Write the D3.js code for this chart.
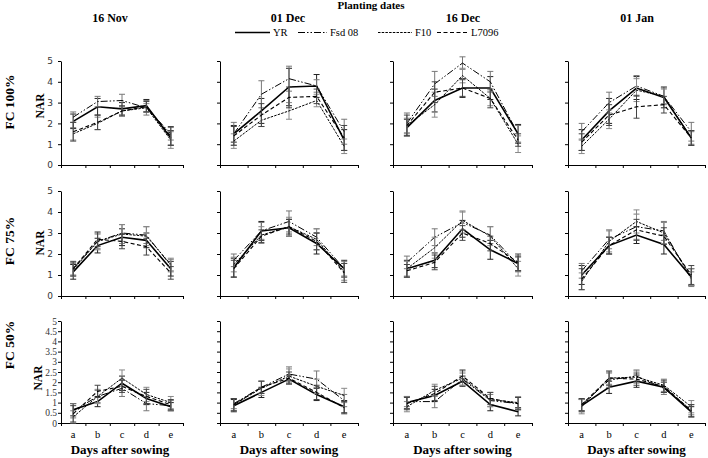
<!DOCTYPE html>
<html>
<head>
<meta charset="utf-8">
<script src="https://cdn.jsdelivr.net/npm/d3@7"></script>
<style>
  body { margin: 0; background: #fff; }
  svg { display: block; }
</style>
</head>
<body>
<div id="chart"></div>
<script>
// planting dates (columns), field capacity (rows), sampling stages
var dates = ["16 Nov", "01 Dec", "16 Dec", "01 Jan"];
var fcLevels = ["FC 100%", "FC 75%", "FC 50%"];
var stages = ["a", "b", "c", "d", "e"];
var varieties = ["YR", "Fsd 08", "F10", "L7096"];

var yTicksWide = [0, 1, 2, 3, 4, 5];
var yTicksFine = [0, 0.5, 1, 1.5, 2, 2.5, 3, 3.5, 4, 4.5, 5];

// NAR means, [row][col] -> a..e
var yrNar = [
  [[2.1, 2.8, 2.7, 2.85, 1.3], [1.5, 2.6, 3.75, 3.8, 1.2], [1.8, 3.1, 3.7, 3.7, 1.5], [1.2, 2.6, 3.7, 3.25, 1.3]],
  [[1.15, 2.4, 2.8, 2.65, 1.3], [1.35, 3.1, 3.25, 2.5, 1.3], [1.3, 1.7, 3.2, 2.2, 1.55], [1.0, 2.4, 2.9, 2.45, 0.9]],
  [[0.65, 1.05, 1.95, 1.2, 0.8], [0.85, 1.5, 2.15, 1.4, 0.8], [1.0, 1.35, 2.05, 0.9, 0.55], [0.85, 1.75, 2.05, 1.75, 0.55]]
];
var fsdNar = [
  [[2.3, 3.05, 3.1, 2.75, 1.5], [1.5, 3.4, 4.15, 3.8, 1.6], [2.0, 3.9, 4.9, 4.0, 1.5], [1.6, 3.0, 3.8, 3.3, 1.6]],
  [[1.3, 2.6, 3.0, 2.9, 1.45], [1.7, 3.1, 3.55, 2.8, 1.3], [1.6, 2.8, 3.5, 2.9, 1.5], [1.2, 2.7, 3.3, 3.1, 0.8]],
  [[0.6, 1.3, 1.7, 0.95, 0.85], [0.95, 1.75, 2.4, 2.15, 1.1], [1.05, 1.05, 2.15, 1.1, 0.95], [0.9, 2.1, 2.3, 1.7, 0.65]]
];
var f10Nar = [
  [[1.5, 2.0, 2.6, 2.75, 1.2], [1.15, 2.15, 2.6, 3.1, 0.9], [1.9, 2.9, 4.3, 3.2, 1.0], [0.9, 2.2, 3.6, 3.3, 1.3]],
  [[1.25, 2.6, 2.95, 2.85, 1.5], [1.5, 2.9, 3.3, 2.7, 1.15], [1.3, 2.3, 3.6, 2.85, 1.3], [0.7, 2.6, 3.55, 3.0, 0.9]],
  [[0.3, 1.3, 2.2, 1.4, 1.0], [0.9, 1.7, 2.3, 1.8, 1.35], [0.8, 1.6, 2.2, 1.15, 1.0], [0.8, 2.2, 2.25, 1.85, 0.8]]
];
var l7096Nar = [
  [[1.6, 2.05, 2.6, 2.8, 1.4], [1.4, 2.4, 3.25, 3.3, 1.3], [1.9, 3.5, 3.7, 3.2, 1.2], [1.1, 2.4, 2.8, 2.9, 1.3]],
  [[1.3, 2.7, 2.6, 2.35, 1.1], [1.3, 2.85, 3.3, 2.6, 1.1], [1.2, 1.6, 3.0, 2.5, 1.6], [0.8, 2.4, 3.15, 2.85, 1.0]],
  [[0.45, 1.55, 1.8, 1.3, 0.9], [0.9, 1.75, 2.2, 1.5, 0.75], [0.95, 1.45, 2.3, 1.2, 0.95], [0.9, 2.2, 2.15, 1.8, 0.6]]
];

// error bar half-lengths
var yrErr = [
  [[0.35, 0.4, 0.3, 0.3, 0.35], [0.4, 0.6, 0.9, 0.55, 0.5], [0.4, 0.55, 0.45, 0.55, 0.45], [0.5, 0.6, 0.55, 0.5, 0.35]],
  [[0.35, 0.35, 0.4, 0.35, 0.35], [0.45, 0.45, 0.4, 0.5, 0.4], [0.4, 0.35, 0.4, 0.45, 0.35], [0.45, 0.4, 0.4, 0.45, 0.4]],
  [[0.3, 0.25, 0.35, 0.3, 0.2], [0.3, 0.25, 0.2, 0.3, 0.3], [0.3, 0.3, 0.25, 0.3, 0.2], [0.3, 0.3, 0.3, 0.25, 0.25]]
];
var fsdErr = [
  [[0.25, 0.25, 0.3, 0.35, 0.3], [0.55, 0.65, 0.6, 0.3, 0.6], [0.5, 0.6, 0.3, 0.5, 0.4], [0.4, 0.5, 0.5, 0.4, 0.45]],
  [[0.3, 0.35, 0.4, 0.4, 0.3], [0.3, 0.4, 0.5, 0.4, 0.35], [0.3, 0.4, 0.5, 0.4, 0.35], [0.35, 0.45, 0.6, 0.45, 0.35]],
  [[0.35, 0.3, 0.4, 0.35, 0.25], [0.25, 0.3, 0.35, 0.4, 0.3], [0.25, 0.3, 0.3, 0.3, 0.3], [0.3, 0.35, 0.3, 0.3, 0.25]]
];
var f10Err = [
  [[0.3, 0.3, 0.2, 0.2, 0.4], [0.35, 0.3, 0.4, 0.3, 0.35], [0.35, 0.6, 0.35, 0.35, 0.4], [0.35, 0.45, 0.55, 0.35, 0.3]],
  [[0.3, 0.4, 0.45, 0.45, 0.3], [0.35, 0.4, 0.45, 0.5, 0.4], [0.35, 0.5, 0.45, 0.45, 0.35], [0.4, 0.5, 0.55, 0.5, 0.4]],
  [[0.3, 0.35, 0.4, 0.35, 0.3], [0.3, 0.35, 0.35, 0.35, 0.35], [0.25, 0.3, 0.35, 0.35, 0.3], [0.35, 0.3, 0.3, 0.3, 0.3]]
];
var l7096Err = [
  [[0.45, 0.35, 0.25, 0.25, 0.45], [0.45, 0.55, 0.5, 0.35, 0.6], [0.5, 0.5, 0.4, 0.45, 0.3], [0.4, 0.5, 0.55, 0.4, 0.35]],
  [[0.35, 0.35, 0.35, 0.4, 0.3], [0.4, 0.3, 0.35, 0.4, 0.45], [0.3, 0.35, 0.35, 0.35, 0.4], [0.5, 0.4, 0.5, 0.4, 0.45]],
  [[0.4, 0.3, 0.3, 0.35, 0.25], [0.3, 0.3, 0.3, 0.35, 0.3], [0.3, 0.35, 0.3, 0.3, 0.3], [0.3, 0.35, 0.3, 0.3, 0.3]]
];

var svgWidth = 708;
var svgHeight = 458;

// panel frames
var colLeft = [61, 220, 393, 568];
var colRight = [183, 358, 532, 705];
var rowTop = [61, 191, 321];
var rowBottom = [165, 296, 423];
// vertical centres of the row labels
var fcLabelY = [102, 241, 345];
var narLabelY = [106, 243, 378];

var serif = "'Liberation Serif', 'Times New Roman', serif";
var sans = "'DejaVu Sans', 'Liberation Sans', sans-serif";

var series = [
  { name: varieties[0], values: yrNar, err: yrErr, width: 1.6, dash: null, errColor: "#222" },
  { name: varieties[1], values: fsdNar, err: fsdErr, width: 1, dash: "7,2,1.5,2,1.5,2", errColor: "#777" },
  { name: varieties[2], values: f10Nar, err: f10Err, width: 1, dash: "2.5,1.2", errColor: "#888" },
  { name: varieties[3], values: l7096Nar, err: l7096Err, width: 1.1, dash: "4,2.5", errColor: "#444" }
];

var svg = d3.select("#chart")
  .append("svg")
  .attr("width", svgWidth)
  .attr("height", svgHeight);

// header
svg.append("text")
  .attr("x", 371)
  .attr("y", 9)
  .attr("text-anchor", "middle")
  .style("font-family", serif)
  .style("font-weight", "bold")
  .style("font-size", "11px")
  .text("Planting dates");

var dateCenters = [110, 288, 463, 637];
dates.forEach(function(d, i) {
  svg.append("text")
    .attr("x", dateCenters[i])
    .attr("y", 22)
    .attr("text-anchor", "middle")
    .style("font-family", serif)
    .style("font-weight", "bold")
    .style("font-size", "12px")
    .text(d);
});

// legend
var legendX = [235, 298, 378, 437];
var legendLen = [35, 29, 34, 31];
var legend = svg.append("g").attr("transform", "translate(0, 36)");
series.forEach(function(s, i) {
  legend.append("line")
    .attr("x1", legendX[i])
    .attr("x2", legendX[i] + legendLen[i])
    .attr("y1", -3.5)
    .attr("y2", -3.5)
    .attr("stroke", "#000")
    .attr("stroke-width", s.width)
    .attr("stroke-dasharray", s.dash);
  legend.append("text")
    .attr("x", legendX[i] + legendLen[i] + 3)
    .attr("y", 0)
    .style("font-family", serif)
    .style("font-size", "10.5px")
    .text(s.name);
});

// panels
fcLevels.forEach(function(fc, r) {
  var h = rowBottom[r] - rowTop[r];
  var y = d3.scaleLinear().domain([0, 5]).range([h, 0]);

  // row labels
  svg.append("text")
    .attr("transform", `translate(14, ${fcLabelY[r]}) rotate(-90)`)
    .attr("text-anchor", "middle")
    .style("font-family", serif)
    .style("font-weight", "bold")
    .style("font-size", "13.5px")
    .text(fc);
  svg.append("text")
    .attr("transform", `translate(${r === 2 ? 42 : 44}, ${narLabelY[r]}) rotate(-90)`)
    .attr("text-anchor", "middle")
    .style("font-family", serif)
    .style("font-weight", "bold")
    .style("font-size", "11.5px")
    .text("NAR");

  dates.forEach(function(date, c) {
    var w = colRight[c] - colLeft[c];
    var x = d3.scaleBand().domain(stages).range([0, w]);
    var xEdge = d3.scaleLinear().domain([0, stages.length]).range([0, w]);
    var cx = function(s) { return x(s) + x.bandwidth() / 2; };

    var g = svg.append("g")
      .attr("transform", `translate(${colLeft[c]}, ${rowTop[r]})`);

    // y axis
    var ticks = r === 2 ? yTicksFine : yTicksWide;
    var leftAxis = d3.axisLeft(y)
      .tickValues(ticks)
      .tickSize(3)
      .tickSizeOuter(0)
      .tickFormat(c === 0 ? d3.format("") : "");
    var yAxis = g.append("g").call(leftAxis);
    yAxis.selectAll("text")
      .attr("x", r === 2 ? -4 : -8)
      .style("font-family", r === 2 ? serif : sans)
      .style("font-size", r === 2 ? "9.5px" : "9px")
      .attr("fill", "#333");

    // x axis with ticks at band edges
    var bottomAxis = d3.axisBottom(xEdge)
      .tickValues(d3.range(stages.length + 1))
      .tickSize(3)
      .tickSizeOuter(0)
      .tickFormat("");
    g.append("g")
      .attr("transform", `translate(0, ${h})`)
      .call(bottomAxis);

    g.selectAll(".domain, .tick line").attr("stroke", "#000");

    // stage labels on bottom row
    if (r === 2) {
      g.selectAll(".stage")
        .data(stages)
        .enter()
        .append("text")
        .attr("x", d => cx(d))
        .attr("y", h + 15)
        .attr("text-anchor", "middle")
        .style("font-family", serif)
        .style("font-size", "10.5px")
        .text(d => d);
      g.append("text")
        .attr("x", w / 2 + (c === 0 ? -2 : 0))
        .attr("y", h + 31)
        .attr("text-anchor", "middle")
        .style("font-family", serif)
        .style("font-weight", "bold")
        .style("font-size", "13px")
        .text("Days after sowing");
    }

    var line = d3.line()
      .x((d, i) => cx(stages[i]))
      .y(d => y(d));

    series.forEach(function(s) {
      var vals = s.values[r][c];
      var errs = s.err[r][c];

      // error bars
      var eb = g.append("g")
        .attr("stroke", s.errColor)
        .attr("stroke-width", 1);
      vals.forEach(function(v, i) {
        var px = cx(stages[i]);
        var lo = y(Math.max(0, v - errs[i]));
        var hi = y(v + errs[i]);
        eb.append("line").attr("x1", px).attr("x2", px).attr("y1", lo).attr("y2", hi);
        eb.append("line").attr("x1", px - 3).attr("x2", px + 3).attr("y1", lo).attr("y2", lo);
        eb.append("line").attr("x1", px - 3).attr("x2", px + 3).attr("y1", hi).attr("y2", hi);
      });

      g.append("path")
        .datum(vals)
        .attr("d", line)
        .attr("fill", "none")
        .attr("stroke", "#000")
        .attr("stroke-width", s.width)
        .attr("stroke-dasharray", s.dash);
    });
  });
});
</script>
</body>
</html>
